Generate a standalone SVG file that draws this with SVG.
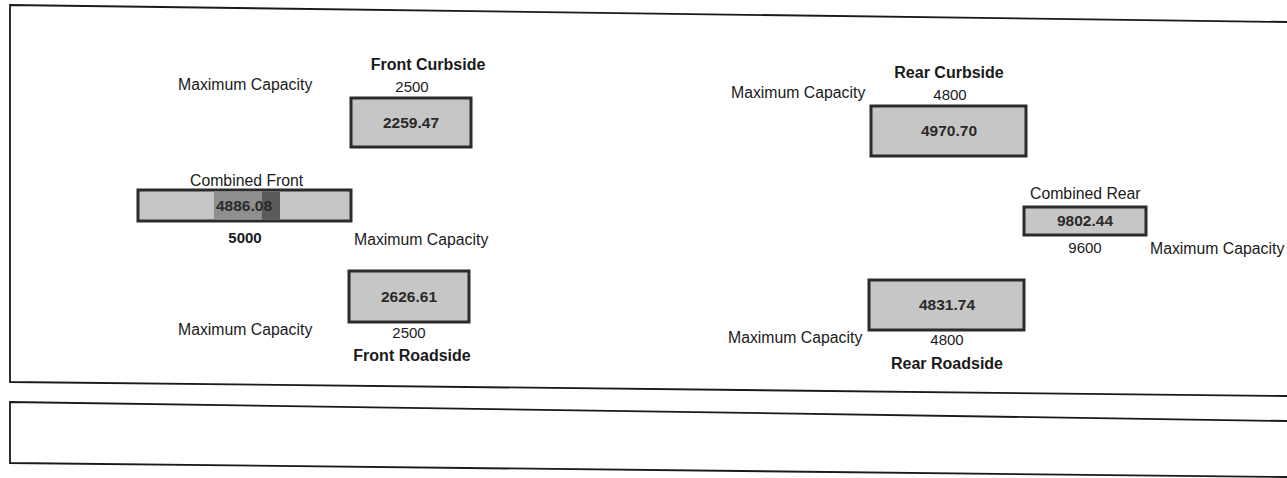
<svg xmlns="http://www.w3.org/2000/svg" width="1287" height="478" viewBox="0 0 1287 478">
<style>
text{font-family:"Liberation Sans",Arial,sans-serif;fill:#1a1a1a}
.lbl{font-size:15.8px}
.num{font-size:15px}
.ttl{font-size:16px;font-weight:bold}
.val{font-size:15.5px;font-weight:bold;fill:#2a2a2a}
.box{fill:#c6c6c6;stroke:#2b2b2b;stroke-width:3}
.frame{fill:none;stroke:#1a1a1a;stroke-width:1.8}
</style>
<rect width="1287" height="478" fill="#ffffff"/>
<g id="frames">
<polyline class="frame" points="1287,22 10,5 10,382 1287,396"/>
<polyline class="frame" points="1287,421 10,402 10,463 1287,477"/>
</g>
<g id="connectors"></g>
<g id="front-curbside">
<text class="ttl" x="428" y="70" text-anchor="middle">Front Curbside</text>
<text class="lbl" x="178" y="90">Maximum Capacity</text>
<text class="num" x="412" y="92" text-anchor="middle">2500</text>
<rect class="box" x="351" y="98" width="120" height="49"/>
<text class="val" x="411" y="128" text-anchor="middle">2259.47</text>
</g>
<g id="combined-front">
<text class="lbl" x="190" y="186">Combined Front</text>
<rect class="box" x="138" y="190" width="213" height="31"/>
<rect x="214" y="191.5" width="48" height="28" fill="#8f8f8f"/>
<rect x="262" y="191.5" width="18" height="28" fill="#5a5a5a"/>
<text class="val" x="244" y="211" text-anchor="middle">4886.08</text>
<text class="num" x="245" y="243" text-anchor="middle" font-weight="bold">5000</text>
<text class="lbl" x="354" y="245">Maximum Capacity</text>
</g>
<g id="front-roadside">
<rect class="box" x="349" y="271" width="120" height="51"/>
<text class="val" x="409" y="302" text-anchor="middle">2626.61</text>
<text class="lbl" x="178" y="335">Maximum Capacity</text>
<text class="num" x="409" y="338" text-anchor="middle">2500</text>
<text class="ttl" x="412" y="361" text-anchor="middle">Front Roadside</text>
</g>
<g id="rear-curbside">
<text class="ttl" x="949" y="78" text-anchor="middle">Rear Curbside</text>
<text class="lbl" x="731" y="98">Maximum Capacity</text>
<text class="num" x="950" y="100" text-anchor="middle">4800</text>
<rect class="box" x="871" y="106" width="155" height="50"/>
<text class="val" x="949" y="136" text-anchor="middle">4970.70</text>
</g>
<g id="combined-rear">
<text class="lbl" x="1030" y="199">Combined Rear</text>
<rect class="box" x="1024" y="207" width="122" height="28"/>
<text class="val" x="1085" y="226" text-anchor="middle">9802.44</text>
<text class="num" x="1085" y="253" text-anchor="middle">9600</text>
<text class="lbl" x="1150" y="254">Maximum Capacity</text>
</g>
<g id="rear-roadside">
<rect class="box" x="869" y="280" width="155" height="50"/>
<text class="val" x="947" y="310" text-anchor="middle">4831.74</text>
<text class="lbl" x="728" y="343">Maximum Capacity</text>
<text class="num" x="947" y="345" text-anchor="middle">4800</text>
<text class="ttl" x="947" y="369" text-anchor="middle">Rear Roadside</text>
</g>
</svg>
